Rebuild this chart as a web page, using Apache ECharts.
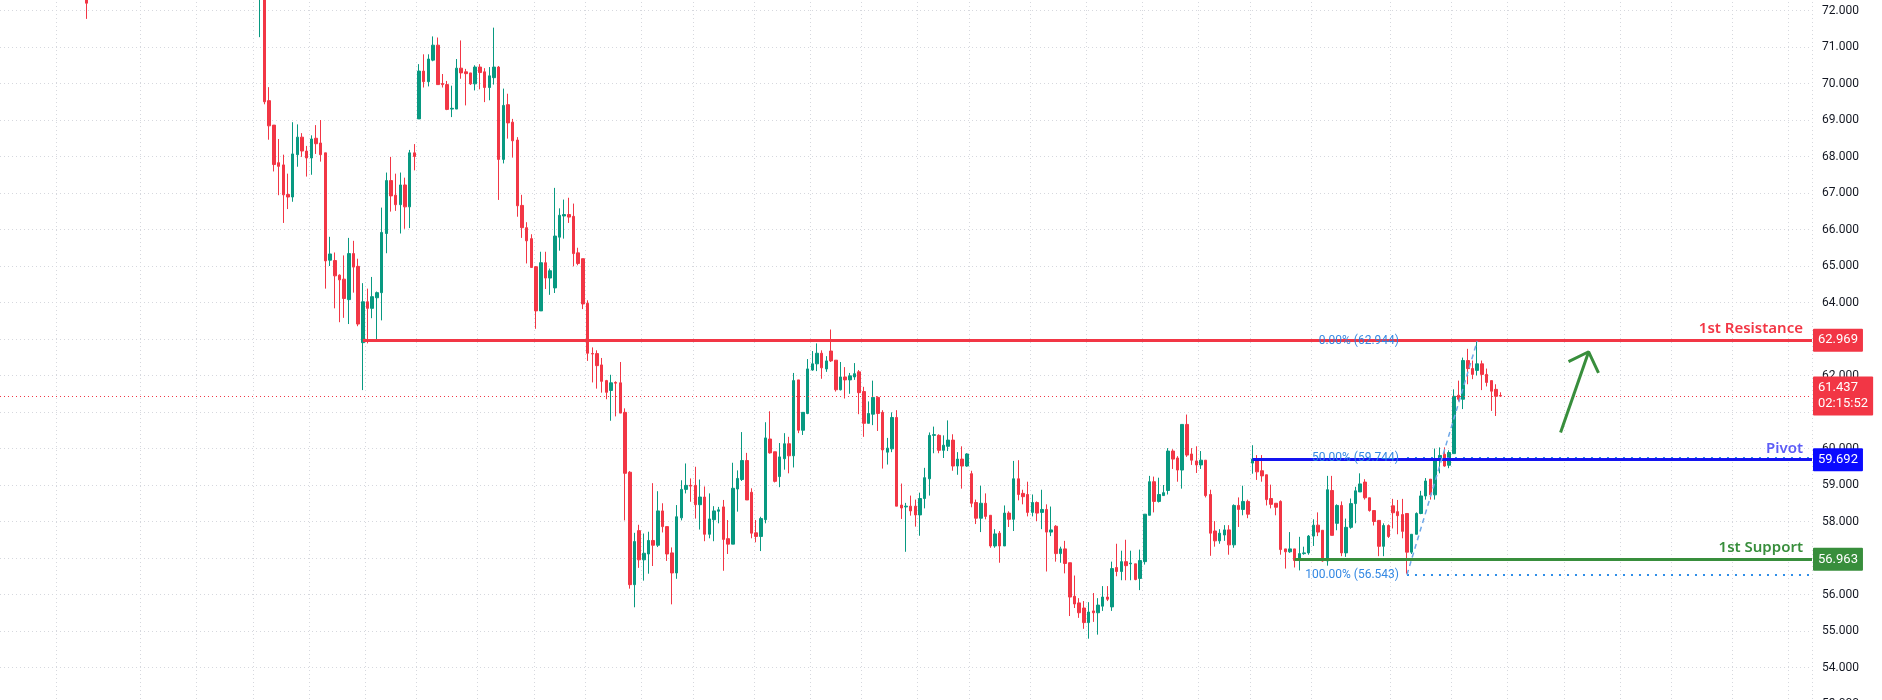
<!DOCTYPE html>
<html><head><meta charset="utf-8">
<script src="https://cdn.jsdelivr.net/npm/echarts@6/dist/echarts.min.js"></script>
<style>html,body{margin:0;padding:0;background:#fff;overflow:hidden;width:1882px;height:700px}#c{position:absolute;left:0;top:-32px;width:1882px;height:742px}</style>
</head><body><div id="c"></div>
<script>
// ---- data ----
const loneCandle = [72.5, 72.2, 71.77, 72.8]; // open, close, low, high
const opens = [72.5,72.3,69.53,68.86,67.83,67.77,66.96,66.89,68.05,68.53,68.15,67.96,68.5,68.37,68.1,65.16,65.15,64.75,64.64,64.08,65.34,64.99,62.9,64.02,63.84,64.13,64.27,65.89,67.34,66.94,66.68,67.22,66.62,68.1,69.03,70.34,70.05,70.64,71.05,70.0,69.97,69.3,69.3,70.42,70.32,70.29,69.99,70.45,70.32,69.89,70.16,70.45,67.92,69.42,68.94,68.45,66.66,66.05,65.75,64.98,63.77,65.09,64.67,64.4,65.79,66.37,66.41,66.36,65.36,65.2,63.98,62.6,62.6,62.29,61.86,61.59,61.81,61.8,60.99,59.35,56.27,57.75,56.95,57.11,57.48,57.35,58.29,57.86,57.14,56.59,58.1,58.88,58.99,58.99,58.46,58.67,57.65,58.05,58.28,58.4,57.53,57.38,58.89,59.15,59.67,58.8,57.69,57.59,58.05,60.26,59.91,59.23,59.72,60.13,59.8,61.88,60.5,60.96,62.15,62.32,62.61,62.18,62.67,62.42,61.61,61.96,61.88,61.96,62.1,61.56,60.69,60.94,61.4,60.99,59.9,59.99,60.85,58.45,58.4,58.42,58.42,58.18,58.63,59.17,60.36,60.36,59.95,60.06,60.23,59.52,59.71,59.52,59.31,58.52,58.09,58.5,58.17,57.33,57.68,57.33,58.23,58.06,59.17,58.77,58.74,58.25,58.52,58.25,58.33,57.71,57.87,57.12,57.25,56.87,55.95,55.77,55.63,55.23,55.55,55.5,55.68,55.93,55.66,56.74,56.63,56.9,56.84,56.84,56.44,56.9,58.17,59.09,58.55,58.71,58.85,59.93,59.74,59.41,60.66,59.85,59.66,59.55,59.68,58.74,57.74,57.47,57.63,57.77,57.36,58.44,58.33,58.55,59.6,59.71,59.39,59.28,58.63,58.5,58.55,57.25,57.17,57.25,56.93,57.12,57.14,57.6,57.9,57.76,56.92,58.85,57.95,58.44,57.14,57.84,58.49,58.81,59.08,58.65,58.3,58.03,57.32,57.89,58.43,58.27,58.19,58.22,57.16,57.65,58.22,58.7,59.16,58.73,59.68,59.84,59.54,59.86,61.46,61.35,62.41,62.19,62.14,62.32,62.03,61.86,61.62,61.45];
const closes = [73.0,69.5,68.84,67.78,67.73,66.95,66.89,68.07,68.53,68.15,67.96,68.48,68.35,68.05,65.14,65.33,64.73,64.62,64.11,65.34,64.97,63.41,64.02,63.84,64.16,64.27,65.92,67.34,66.92,66.68,67.22,66.62,68.1,68.0,70.34,70.05,70.67,71.05,69.97,69.97,69.29,69.32,70.42,70.29,70.27,69.99,70.45,70.3,69.89,70.21,70.45,67.92,69.4,68.92,68.43,66.65,66.05,65.69,64.96,63.77,65.09,64.67,64.87,65.82,66.39,66.41,66.34,65.34,65.07,63.96,62.61,62.59,62.27,61.84,61.54,61.8,61.79,60.97,59.32,56.27,57.45,56.95,57.13,57.48,57.35,58.29,57.86,57.11,56.59,58.13,58.88,58.99,58.97,58.46,58.67,57.65,58.07,58.29,58.32,57.51,57.38,58.91,59.18,59.67,58.59,57.68,57.59,58.08,60.29,59.88,59.1,59.77,60.13,59.8,61.86,60.5,60.99,62.18,62.32,62.61,62.21,62.4,62.4,61.61,61.96,61.88,61.99,62.05,61.53,60.69,60.96,61.4,60.96,59.96,60.01,60.85,58.42,58.37,58.42,58.29,58.18,58.63,59.2,60.36,60.38,59.95,60.09,60.23,59.52,59.71,59.52,59.85,58.5,58.09,58.5,58.14,57.33,57.66,57.33,58.23,58.06,59.17,58.74,58.68,58.25,58.52,58.23,58.33,57.71,57.77,57.12,57.25,56.85,55.93,55.74,55.5,55.23,55.52,55.5,55.71,55.93,55.87,56.71,56.63,56.9,56.79,56.86,56.41,56.93,58.2,59.09,58.55,58.74,58.79,59.93,59.71,59.41,60.66,59.82,59.68,59.55,59.68,58.71,57.68,57.47,57.68,57.77,57.36,58.44,58.33,58.55,58.2,59.71,59.36,59.25,58.6,58.47,58.39,57.23,57.17,57.25,56.93,57.12,57.14,57.6,57.9,57.71,56.92,58.87,57.62,58.44,57.14,57.84,58.49,58.84,59.03,58.65,58.3,58.0,57.32,57.89,57.59,58.24,58.16,57.73,57.16,57.65,58.22,58.7,59.11,58.73,59.68,59.81,59.52,59.89,61.43,61.35,62.41,62.19,62.03,62.32,62.03,61.81,61.57,61.43,61.437];
const lows = [71.27,69.43,68.46,67.59,66.94,66.18,66.56,66.76,67.72,67.99,67.45,67.5,68.07,67.86,64.38,65.0,63.84,63.46,63.58,63.41,64.27,63.35,61.6,62.88,63.57,62.95,63.51,65.35,66.49,66.51,65.89,66.02,66.04,67.62,69.03,69.89,69.92,70.61,69.97,69.89,69.27,69.08,69.3,70.13,69.4,69.96,69.81,69.84,69.49,69.54,69.97,66.81,67.81,68.49,67.97,66.35,65.77,65.07,64.96,63.28,63.77,64.37,64.21,64.26,65.42,65.75,66.18,64.99,65.02,63.82,62.4,61.81,61.64,61.53,61.35,60.76,60.88,60.97,58.03,56.16,55.65,56.73,56.38,56.57,56.78,57.3,57.7,56.92,55.73,56.43,58.03,58.77,58.54,58.08,57.78,57.46,57.54,57.46,57.95,56.65,57.11,57.38,58.27,59.11,58.59,57.54,57.43,57.19,57.95,59.86,59.07,58.94,59.42,59.32,59.48,60.42,60.37,60.94,62.13,62.12,61.91,62.1,62.37,61.56,61.59,61.37,61.5,61.88,60.94,60.32,60.69,60.64,60.48,59.45,59.56,59.9,58.42,58.07,57.17,58.16,57.86,57.61,58.36,58.71,59.87,59.87,59.74,59.93,59.39,59.28,58.9,59.5,58.39,57.93,57.71,58.06,57.28,57.28,56.87,57.33,57.85,57.74,58.58,58.47,58.14,58.14,58.01,57.79,56.63,57.6,56.9,56.87,56.58,55.41,55.63,55.36,55.06,54.79,55.25,54.9,55.55,55.82,55.55,56.5,56.39,56.39,56.39,56.39,56.12,56.82,58.17,58.25,58.52,58.71,58.74,59.44,59.09,58.9,59.77,59.55,59.33,59.44,58.66,57.06,57.31,57.39,57.47,57.09,57.28,57.85,58.17,58.09,59.31,59.14,59.09,58.44,58.36,58.17,57.09,56.71,57.14,56.74,56.66,57.09,57.09,57.33,57.6,56.9,56.79,57.62,57.76,57.05,57.03,57.8,57.95,58.81,58.6,58.27,57.89,57.05,57.05,57.55,57.81,57.65,57.54,56.57,57.11,57.65,58.2,58.6,58.6,58.6,59.32,59.5,59.46,59.86,61.3,61.08,61.76,61.9,62.0,61.6,61.7,61.03,60.89,61.43];
const highs = [73.2,72.5,69.9,68.86,68.48,68.05,67.53,68.94,68.88,68.64,68.29,68.58,68.86,69.0,68.1,65.8,65.37,64.77,65.29,65.77,65.69,65.2,64.53,64.38,64.7,64.3,66.6,67.56,67.99,67.53,67.56,67.42,68.18,68.34,70.53,70.8,70.8,71.29,71.26,70.26,70.07,69.94,70.67,71.18,70.4,70.29,70.5,70.53,70.42,70.45,71.53,70.48,69.86,69.72,69.03,68.53,66.95,66.2,65.87,65.0,65.39,65.39,64.93,67.14,66.58,66.82,66.87,66.71,65.5,65.2,64.06,62.77,62.69,62.48,61.88,62.02,61.84,62.37,61.1,59.38,57.69,57.91,57.67,57.72,59.05,58.83,58.5,57.86,57.29,58.45,59.13,59.59,59.18,59.5,59.15,58.96,58.77,58.42,58.4,58.59,58.04,59.61,59.4,60.45,59.88,58.91,58.04,58.13,60.72,61.02,59.91,60.15,60.42,60.32,62.07,61.88,60.99,62.45,62.67,62.88,62.69,62.53,63.26,62.42,62.37,62.23,62.07,62.34,62.15,61.69,61.29,61.86,61.43,61.05,60.29,60.99,61.05,59.04,58.51,58.71,58.6,58.79,59.47,60.44,60.6,60.39,60.36,60.77,60.39,59.9,60.06,59.87,59.39,58.6,58.98,58.77,58.17,57.79,57.74,58.44,58.28,59.66,59.68,58.87,59.09,58.74,58.55,58.87,58.47,58.41,57.9,57.31,57.47,56.87,56.52,55.9,55.82,55.79,56.04,55.9,56.23,56.23,56.9,57.39,57.2,57.5,57.2,56.84,57.23,58.2,59.25,59.23,59.2,59.0,60.01,59.98,59.79,60.66,60.93,60.01,60.06,59.93,59.68,58.87,58.01,57.79,57.9,57.9,58.47,58.66,58.98,58.6,60.09,59.82,59.82,59.28,59.01,58.5,58.58,57.25,57.71,57.25,57.58,57.31,57.63,58.06,58.25,57.76,59.25,59.25,58.47,58.55,58.08,58.63,58.95,59.32,59.16,58.65,58.3,58.03,57.95,57.92,58.62,58.59,58.62,58.22,57.65,58.25,58.84,59.19,59.16,60.0,60.03,60.03,59.95,61.62,61.86,62.49,62.73,62.41,62.92,62.41,62.19,61.86,61.76,61.54];
const loneIndex = 18, firstIndex = 55, slotCount = 387;
const vGridIdx = [12,30,42,54,66,78,89,102,114,125,137,148,161,173,184,196,207,220,232,244,256,267,280,297,310,322,334,346,357,370,382];
const resistance = 62.969, pivot = 59.692, support = 56.963, lastPrice = 61.437, countdown = '02:15:52';
const resistanceStart = 77, pivotStart = 267, supportStart = 276, fibStart = 300;
const fibLevels = [[0, 62.944], [50, 59.744], [100, 56.543]];
const fibTrend = [[300, 56.543], [315, 62.944]];
const arrowShaft = [[332.8, 60.44], [338.8, 62.65]];
const arrowHead = [[334.5, 62.38], [338.8, 62.65], [340.9, 62.07]];

// ---- build ----
const cats = [], candles = [];
for (let i = 0; i < slotCount; i++) { cats.push(String(i)); candles.push('-'); }
candles[loneIndex] = loneCandle;
for (let k = 0; k < opens.length; k++) candles[firstIndex + k] = [opens[k], closes[k], lows[k], highs[k]];
const END = slotCount - 0.5;
const RED = '#f23645', BLUE = '#1414f0', GREEN = '#388e3c', FIB = '#2f8ee8';
function hline(x0, v, color, width, type, label) {
  return [{coord: [x0, v], lineStyle: {color, width, type}, label}, {coord: [END, v]}];
}
function box(bg, text) {
  return {show: true, position: 'end', distance: 1, formatter: text, backgroundColor: bg, color: '#fff',
    fontSize: 13, fontFamily: 'Roboto', padding: [4, 5, 3, 5], lineHeight: 16, borderRadius: 1};
}
function title(color, text) {
  return {show: true, position: 'insideEndTop', distance: [9, 4], formatter: text, color,
    fontSize: 15, fontWeight: 600, fontFamily: 'Noto Sans'};
}
function fibLabel(l) {
  return {show: true, position: 'start', distance: 8, formatter: l[0].toFixed(2) + '% (' + l[1].toFixed(3) + ')',
    color: 'rgba(40,130,225,0.95)', fontSize: 12, fontFamily: 'Roboto'};
}
const markLines = [
  hline(-0.5, lastPrice, RED, 1, [1, 3], box(RED, lastPrice.toFixed(3) + '\n' + countdown)),
  hline(fibStart, fibLevels[0][1], FIB, 2, [2, 6], fibLabel(fibLevels[0])),
  hline(fibStart, fibLevels[1][1], FIB, 2, [2, 6], fibLabel(fibLevels[1])),
  hline(fibStart, fibLevels[2][1], FIB, 2, [2, 6], fibLabel(fibLevels[2])),
  hline(resistanceStart, resistance, RED, 3, 'solid', box(RED, resistance.toFixed(3))),
  hline(resistanceStart, resistance, 'rgba(0,0,0,0)', 0, 'solid', title(RED, '1st Resistance')),
  hline(pivotStart, pivot, BLUE, 3, 'solid', box('#0a0aff', pivot.toFixed(3))),
  hline(pivotStart, pivot, 'rgba(0,0,0,0)', 0, 'solid', title('#5c5cf7', 'Pivot')),
  hline(supportStart, support, GREEN, 3, 'solid', box(GREEN, support.toFixed(3))),
  hline(supportStart, support, 'rgba(0,0,0,0)', 0, 'solid', title(GREEN, '1st Support'))
];
const chart = echarts.init(document.getElementById('c'));
chart.setOption({
  animation: false,
  backgroundColor: '#fff',
  grid: {left: 0, right: 70, top: 0, bottom: 0},
  xAxis: [
    {type: 'category', data: cats, boundaryGap: true, axisLine: {show: false}, axisTick: {show: false}, axisLabel: {show: false},
      splitLine: {show: true, interval: (i) => vGridIdx.includes(i), lineStyle: {color: '#d6d8de', type: [1, 3]}}},
    {type: 'value', min: -0.5, max: END, show: false}
  ],
  yAxis: {type: 'value', position: 'right', min: 53, max: 73, interval: 1,
    axisLine: {show: false}, axisTick: {show: false},
    axisLabel: {color: '#131722', fontSize: 12, fontFamily: 'Roboto', margin: 10, formatter: (v) => v.toFixed(3)},
    splitLine: {lineStyle: {color: '#d6d8de', type: [1, 3]}}},
  series: [
    {type: 'candlestick', data: candles, barWidth: 3, xAxisIndex: 0,
      itemStyle: {color: '#089981', color0: RED, borderColor: '#089981', borderColor0: RED, borderWidth: 1}},
    {type: 'line', xAxisIndex: 1, data: fibTrend, symbol: 'none', lineStyle: {color: '#6fa8e8', width: 1.5, type: [5, 4]},
      markLine: {symbol: ['none', 'none'], silent: true, data: markLines}, z: 5},
    {type: 'line', xAxisIndex: 1, data: arrowShaft, symbol: 'none', lineStyle: {color: '#388e3c', width: 3}, z: 6},
    {type: 'line', xAxisIndex: 1, data: arrowHead, symbol: 'none', lineStyle: {color: '#388e3c', width: 3}, z: 6}
  ]
});
</script></body></html>
